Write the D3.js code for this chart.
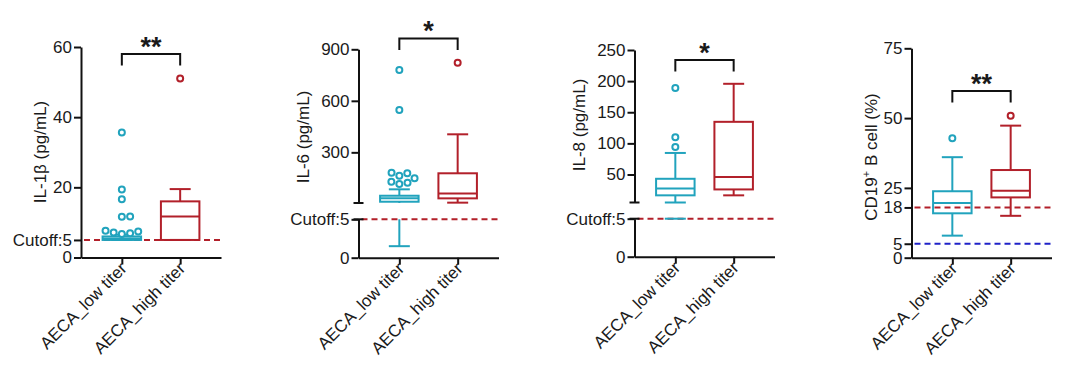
<!DOCTYPE html>
<html>
<head>
<meta charset="utf-8">
<script src="https://cdn.jsdelivr.net/npm/d3@7"></script>
<style>
  body { margin: 0; background: #fff; }
  svg text { font-family: "Liberation Sans", Arial, sans-serif; fill: #1a1a1a; }
  .tick text { font-size: 17px; }
  .ytitle { font-size: 17px; }
  .xlab { font-size: 17px; }
  .stars { font-size: 27px; font-weight: bold; }
</style>
</head>
<body>
<svg id="chart" width="1080" height="377"></svg>
<script>
const groups = ["AECA_low titer", "AECA_high titer"];

// box stats are [min, q1, median, q3, max]
const il1bLow = [5, 5, 5.4, 6, 6.5];
const il1bHigh = [5, 5, 11.7, 16, 19.5];
const il1bLowOut = [6.7, 6.9, 7.1, 7.4, 7.6, 11.6, 11.7, 16.6, 19.4, 35.6];
const il1bHighOut = [51];
const il1bTicks = [0, 5, 20, 40, 60];
const il1bSegs = [[0, 60]];
const il1bRefs = [5];

const il6Low = [1.5, 12.4, 32, 47.3, 84.6];
const il6High = [7, 32, 61, 178, 405];
const il6LowOut = [115.5, 123, 129, 148.7, 164, 177.8, 181, 546, 780];
const il6HighOut = [822];
const il6Ticks = [0, 5, 300, 600, 900];
const il6Segs = [[0, 5], [5, 900]];
const il6Refs = [5];

const il8Low = [5, 16.5, 27.5, 43.1, 84.6];
const il8High = [16.5, 26, 46, 134.6, 195.7];
const il8LowOut = [94, 110, 189];
const il8HighOut = [];
const il8Ticks = [0, 5, 50, 100, 150, 200, 250];
const il8Segs = [[0, 5], [5, 250]];
const il8Refs = [5];

const cd19Low = [7.9, 15.9, 19.6, 23.8, 36];
const cd19High = [15, 21.6, 24, 31.4, 47.3];
const cd19LowOut = [42.8];
const cd19HighOut = [50.8];
const cd19Ticks = [0, 5, 18, 25, 50, 75];
const cd19Segs = [[0, 75]];
const cd19Refs = [18, 5];

const cutoffLabel = "Cutoff:5";
const red = "#b2202a", cyan = "#21a3bd", blue = "#1f22c8";
const boxColors = [cyan, red];

const panels = [
  {title: "IL-1β (pg/mL)", segs: il1bSegs, ticks: il1bTicks, refs: il1bRefs, refCols: [red], boxes: [il1bLow, il1bHigh], outs: [il1bLowOut, il1bHighOut], sig: "**", cutoff: true,
   axisX: 81, ranges: [[257.5, 47]], titleDx: -41, titleY: 152, bracketY: 54},
  {title: "IL-6 (pg/mL)", segs: il6Segs, ticks: il6Ticks, refs: il6Refs, refCols: [red], boxes: [il6Low, il6High], outs: [il6LowOut, il6HighOut], sig: "*", cutoff: true,
   axisX: 358.5, ranges: [[257.7, 219.3], [203, 49.3]], titleDx: -55, titleY: 137, bracketY: 38.5},
  {title: "IL-8 (pg/mL)", segs: il8Segs, ticks: il8Ticks, refs: il8Refs, refCols: [red], boxes: [il8Low, il8High], outs: [il8LowOut, il8HighOut], sig: "*", cutoff: true,
   axisX: 634.5, ranges: [[256.7, 218.7], [202.5, 50]], titleDx: -55, titleY: 125, bracketY: 60},
  {title: "CD19", sup: "+", rest: " B cell (%)", segs: cd19Segs, ticks: cd19Ticks, refs: cd19Refs, refCols: [red, blue], boxes: [cd19Low, cd19High], outs: [cd19LowOut, cd19HighOut], sig: "**", cutoff: false,
   axisX: 911.5, ranges: [[257.7, 48.3]], titleDx: -40, titleY: 157, bracketY: 91}
];

const svg = d3.select('#chart');
svg.append('rect').attr('width', 1080).attr('height', 377).attr('fill', '#fff');

// simple beeswarm so the outliers do not overlap
function dodge(ys, D) {
  const placed = [];
  ys.forEach(y => {
    let cands = [0];
    placed.forEach(p => {
      const dy = Math.abs(p.y - y);
      if (dy < D) {
        const dx = Math.sqrt(D * D - dy * dy);
        cands.push(p.x + dx, p.x - dx);
      }
    });
    cands.sort((a, b) => Math.abs(a) - Math.abs(b) || b - a);
    const x = cands.find(c => placed.every(p => (p.x - c) ** 2 + (p.y - y) ** 2 >= D * D - 0.01));
    placed.push({x: x, y: y});
  });
  return placed;
}

panels.forEach(p => {
  const g = svg.append('g');
  const width = 140;
  const x = d3.scalePoint().domain(groups).range([p.axisX, p.axisX + width]).padding(0.7);
  const ys = p.segs.map((s, i) => d3.scaleLinear().domain(s).range(p.ranges[i]));
  const y0 = p.ranges[0][0];
  const boxW = x.step() * 0.66;
  const capW = x.step() * 0.36;

  // which segment holds a value (first or last match)
  const segFirst = v => ys.find(s => v >= s.domain()[0] && v <= s.domain()[1]);
  const segLast = v => ys.slice().reverse().find(s => v >= s.domain()[0] && v <= s.domain()[1]);

  // reference dashed lines
  p.refs.forEach((r, k) => {
    const sc = segFirst(r);
    g.append('line')
      .attr('x1', p.axisX + 3).attr('x2', p.axisX + width)
      .attr('y1', sc(r)).attr('y2', sc(r))
      .attr('stroke', p.refCols[k])
      .attr('stroke-width', 2)
      .attr('stroke-dasharray', '6,4');
  });

  // boxes
  p.boxes.forEach((b, i) => {
    const cx = x(groups[i]);
    const col = boxColors[i];
    const [mn, q1, md, q3, mx] = b;
    ys.forEach(sc => {
      const [lo, hi] = sc.domain();
      const cl = v => Math.max(lo, Math.min(hi, v));
      const line = (x1, y1, x2, y2) => g.append('line')
        .attr('x1', x1).attr('y1', y1).attr('x2', x2).attr('y2', y2)
        .attr('stroke', col).attr('stroke-width', 2);
      // whiskers
      if (mx > lo && q3 < hi) line(cx, sc(cl(q3)), cx, sc(cl(mx)));
      if (q1 > lo && mn < hi) line(cx, sc(cl(mn)), cx, sc(cl(q1)));
      if (mx >= lo && mx <= hi) line(cx - capW / 2, sc(mx), cx + capW / 2, sc(mx));
      if (mn >= lo && mn <= hi) line(cx - capW / 2, sc(mn), cx + capW / 2, sc(mn));
      if (q3 > lo && q1 < hi) {
        g.append('rect')
          .attr('x', cx - boxW / 2).attr('width', boxW)
          .attr('y', sc(cl(q3))).attr('height', sc(cl(q1)) - sc(cl(q3)))
          .attr('fill', 'none').attr('stroke', col).attr('stroke-width', 2);
      }
      if (md >= lo && md <= hi) line(cx - boxW / 2, sc(md), cx + boxW / 2, sc(md));
    });

    // outliers
    const pts = p.outs[i].slice().sort((a, c) => a - c).map(v => segLast(v)(v));
    dodge(pts, 8.3).forEach(pt => {
      g.append('circle')
        .attr('cx', cx + pt.x).attr('cy', pt.y).attr('r', 3)
        .attr('fill', '#fff').attr('stroke', col).attr('stroke-width', 2);
    });
  });

  // y axis, one piece per segment
  ys.forEach((sc, i) => {
    const [lo, hi] = sc.domain();
    const tv = p.ticks.filter(t => i === 0 ? (t >= lo && t <= hi) : (t > lo && t <= hi));
    const ax = g.append('g')
      .attr('transform', 'translate(' + p.axisX + ',0)')
      .call(d3.axisLeft(sc).tickValues(tv).tickSize(7).tickSizeOuter(0).tickPadding(2)
        .tickFormat(d => (d === 5 && p.cutoff) ? cutoffLabel : d));
    ax.select('.domain').attr('stroke', '#111').attr('stroke-width', 2);
    ax.selectAll('.tick line').attr('stroke', '#111').attr('stroke-width', 2);
    ax.selectAll('.tick text').attr('fill', '#1a1a1a');
    // break marks
    if (ys.length > 1) {
      const yEdge = i === 0 ? sc(hi) : sc(lo);
      g.append('line')
        .attr('x1', p.axisX - 5).attr('x2', p.axisX + 5)
        .attr('y1', yEdge).attr('y2', yEdge)
        .attr('stroke', '#111').attr('stroke-width', 2);
    }
  });

  // x axis
  const xa = g.append('g')
    .attr('transform', 'translate(0,' + y0 + ')')
    .call(d3.axisBottom(x).tickSize(7).tickSizeOuter(0).tickFormat(''));
  xa.select('.domain').attr('stroke', '#111').attr('stroke-width', 2);
  xa.selectAll('.tick line').attr('stroke', '#111').attr('stroke-width', 2);

  g.selectAll('.xlab')
    .data(groups)
    .enter()
    .append('text')
    .attr('class', 'xlab')
    .attr('text-anchor', 'end')
    .attr('transform', d => 'translate(' + (x(d) + 6) + ',' + (y0 + 12) + ') rotate(-45)')
    .text(d => d);

  // y title
  const t = g.append('text')
    .attr('class', 'ytitle')
    .attr('text-anchor', 'middle')
    .attr('dy', '0.35em')
    .attr('transform', 'translate(' + (p.axisX + p.titleDx) + ',' + p.titleY + ') rotate(-90)');
  t.append('tspan').text(p.title);
  if (p.sup) {
    t.append('tspan').text(p.sup).attr('font-size', '11px').attr('dy', '-7');
    t.append('tspan').text(p.rest).attr('dy', '7');
  }

  // significance bracket
  const bx1 = x(groups[0]), bx2 = x(groups[1]);
  g.append('path')
    .attr('d', 'M' + bx1 + ',' + (p.bracketY + 11.5) + 'V' + p.bracketY + 'H' + bx2 + 'V' + (p.bracketY + 11.5))
    .attr('fill', 'none').attr('stroke', '#111').attr('stroke-width', 2);
  g.append('text')
    .attr('class', 'stars')
    .attr('text-anchor', 'middle')
    .attr('x', (bx1 + bx2) / 2)
    .attr('y', p.bracketY + 1.5)
    .text(p.sig);
});
</script>
</body>
</html>
